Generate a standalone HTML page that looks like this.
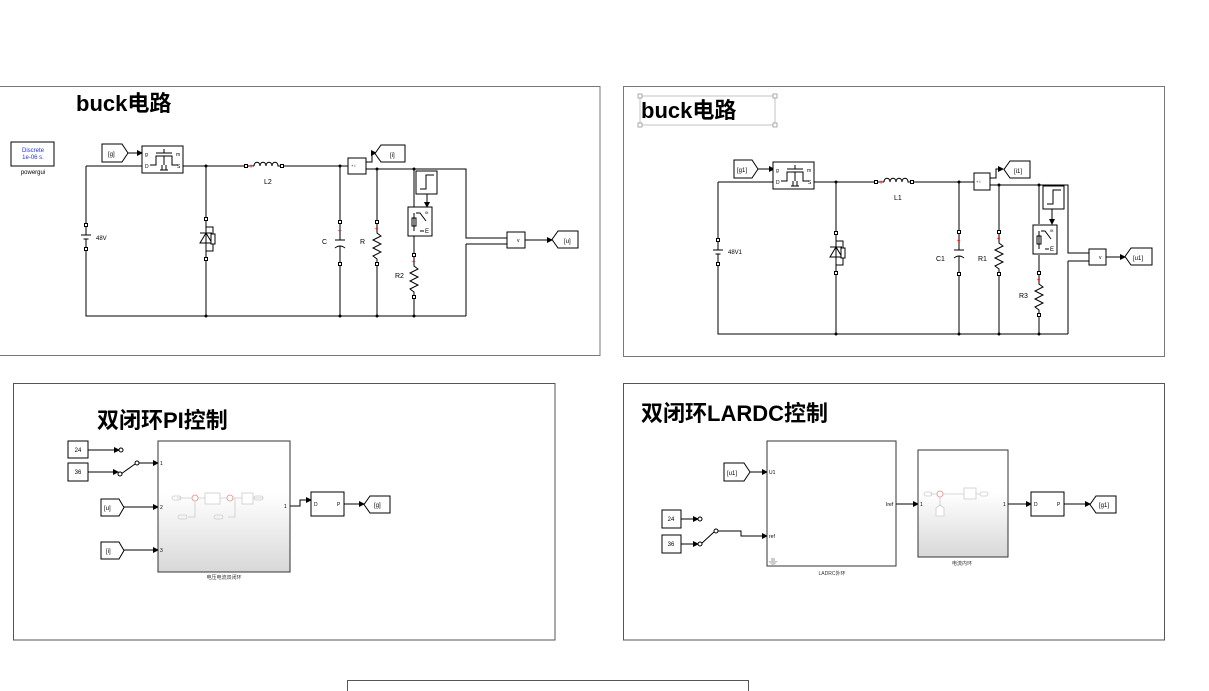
<!DOCTYPE html>
<html><head><meta charset="utf-8"><style>
html,body{margin:0;padding:0;background:#fff;}
svg{display:block;font-family:"Liberation Sans","Noto Sans CJK SC",sans-serif;}
.w{stroke:#000;stroke-width:1;fill:none}
.b{fill:#fff;stroke:#000;stroke-width:1}
.t{font-size:6px;fill:#000}
.tl{font-size:7px;fill:#000}
.ttl{font-size:22px;font-weight:bold;fill:#000}
.dot{fill:#000}
</style></head><body>
<svg width="1209" height="691" viewBox="0 0 1209 691">
<defs>
<marker id="ar" markerWidth="6" markerHeight="6" refX="5" refY="3" orient="auto" markerUnits="userSpaceOnUse"><path d="M0,0L6,3 0,6Z" fill="#000"/></marker>
<linearGradient id="gr" x1="0" y1="0" x2="0" y2="1"><stop offset="0.4" stop-color="#fff"/><stop offset="1" stop-color="#d8d8d8"/></linearGradient>
<g id="res"><path class="w" d="M0,-21V-10l4,3-8,4 8,4-8,4 8,4-8,4 4,3V21"/><rect x="-1.5" y="-22.5" width="3" height="3" class="b"/><rect x="-1.5" y="19.5" width="3" height="3" class="b"/><text x="-2.5" y="-12" style="font-size:7px;fill:red">+</text></g>
<g id="cap"><path class="w" d="M0,-21V-3M-5,-3H5M-5,5Q0,1 5,5M0,3V21"/><rect x="-1.5" y="-22.5" width="3" height="3" class="b"/><rect x="-1.5" y="19.5" width="3" height="3" class="b"/><text x="-2.5" y="-10" style="font-size:7px;fill:red">+</text></g>
<g id="bat"><path class="w" d="M0,-12V-2M-5,-2H5M-2.5,2H2.5M0,2V12"/><rect x="-1.5" y="-13.5" width="3" height="3" class="b"/><rect x="-1.5" y="10.5" width="3" height="3" class="b"/></g>
<g id="dio"><path class="w" d="M0,-20V-12H7V12H0V20M0,-12V12M-6,4H6L0,-6ZM-6,-6H6"/><rect x="5" y="-5" width="4" height="10" class="b"/><rect x="-1.5" y="-21.5" width="3" height="3" class="b"/><rect x="-1.5" y="18.5" width="3" height="3" class="b"/></g>
<g id="ind"><path class="w" d="M0,0H8M8,0c0,-5 6,-5 6,0c0,-5 6,-5 6,0c0,-5 6,-5 6,0c0,-5 6,-5 6,0H36"/><rect x="-1.5" y="-1.5" width="3" height="3" class="b"/><rect x="34.5" y="-1.5" width="3" height="3" class="b"/><text x="3" y="2.5" style="font-size:7px;fill:red">+</text></g>
<g id="mos"><rect x="0" y="0" width="41" height="27" class="b"/><path class="w" d="M8,19H14V10H30V19H36M14,7H30M22,3V7M22,10L22,19M18,24H26M20,24V19M24,24V19"/><text x="3" y="10" style="font-size:5px">g</text><text x="3" y="22" style="font-size:5px">D</text><text x="34" y="10" style="font-size:5px">m</text><text x="35" y="22" style="font-size:5px">S</text></g>
<g id="sw"><rect x="0" y="0" width="24" height="29" class="b"/><path class="w" d="M6,6V24M4,11H8V19H4ZM8,6H12L18,14M12,24H16"/><text x="17" y="7" style="font-size:4px">0t</text><text x="17" y="26" style="font-size:6px">E</text></g>
<g id="step"><rect x="0" y="0" width="21" height="23" class="b"/><path class="w" d="M4,18H10V4H18"/></g>
</defs>

<!-- ===== Left buck panel ===== -->
<rect x="-1" y="86.5" width="601" height="269" fill="#fff" stroke="#777"/>
<text x="76" y="111" class="ttl">buck电路</text>
<rect x="11" y="142" width="43" height="24" class="b"/>
<text x="33" y="152" style="font-size:6px;fill:#23d" text-anchor="middle">Discrete</text>
<text x="33" y="159" style="font-size:6px;fill:#23d" text-anchor="middle">1e-06 s.</text>
<text x="33" y="174" style="font-size:6px" text-anchor="middle">powergui</text>
<path class="w" d="M86,166H142M183,166H246M282,166H348M340,166V222M340,264V316M206,166V218M206,260V316M86,166V224M86,250V316H466M366,169H466V238H507M466,244H507M466,244V316M377,169V222M377,264V316M414,169V207M414,236V255M414,297V316"/>
<path class="w" marker-end="url(#ar)" d="M128,153H142"/>
<path class="w" marker-end="url(#ar)" d="M366,162H372V153H376"/>
<path class="w" marker-end="url(#ar)" d="M525,240H552"/>
<path class="w" marker-end="url(#ar)" d="M427,194V207"/>
<g class="dot"><circle cx="206" cy="166" r="1.5"/><circle cx="340" cy="166" r="1.5"/><circle cx="206" cy="316" r="1.5"/><circle cx="340" cy="316" r="1.5"/><circle cx="377" cy="316" r="1.5"/><circle cx="414" cy="316" r="1.5"/><circle cx="377" cy="169" r="1.5"/><circle cx="414" cy="169" r="1.5"/></g>
<path d="M102,144h20l6,9-6,9h-20z" class="b"/><text x="108" y="156" class="t">[g]</text>
<use href="#mos" x="142" y="146"/>
<use href="#ind" x="246" y="166"/><text x="264" y="184" class="tl">L2</text>
<use href="#bat" x="86" y="237"/><text x="96" y="240" class="t">48V</text>
<use href="#dio" x="206" y="239"/>
<use href="#cap" x="340" y="243"/><text x="322" y="244" class="tl">C</text>
<use href="#res" x="377" y="243"/><text x="360" y="244" class="tl">R</text>
<rect x="348" y="158" width="18" height="16" class="b"/><text x="351" y="167" style="font-size:4px">+ i</text>
<path d="M381,145h24v17h-24l-6,-8.5z" class="b"/><text x="390" y="157" class="t">[i]</text>
<use href="#step" x="416" y="171"/>
<use href="#sw" x="408" y="207"/>
<use href="#res" x="414" y="276"/><text x="395" y="278" class="tl">R2</text>
<rect x="507" y="232" width="18" height="16" class="b"/><text x="517" y="242" style="font-size:5px">v</text>
<path d="M558,231h20v17h-20l-6,-8.5z" class="b"/><text x="564" y="243" class="t">[u]</text>

<!-- ===== Right buck panel ===== -->
<rect x="623.5" y="86.5" width="541" height="270" fill="#fff" stroke="#777"/>
<rect x="640" y="96" width="135" height="29" fill="none" stroke="#aaa" stroke-width="0.7"/>
<g fill="#fff" stroke="#888" stroke-width="0.7"><rect x="638" y="94" width="4" height="4"/><rect x="773" y="94" width="4" height="4"/><rect x="638" y="123" width="4" height="4"/><rect x="773" y="123" width="4" height="4"/></g>
<text x="641" y="118" class="ttl">buck电路</text>
<path class="w" d="M718,182H774M813,182H876M912,182H974M959,182V232M959,274V334M836,182V232M836,274V334M718,182V240M718,265V334H1068M990,185H1068V253H1089M1068,261H1089M1068,261V334M999,185V232M999,274V334M1039,185V224M1039,255V273M1039,315V334"/>
<path class="w" marker-end="url(#ar)" d="M758,169H774"/>
<path class="w" marker-end="url(#ar)" d="M990,178H996V169H1003"/>
<path class="w" marker-end="url(#ar)" d="M1106,257H1125"/>
<path class="w" marker-end="url(#ar)" d="M1052,209V224"/>
<g class="dot"><circle cx="836" cy="182" r="1.5"/><circle cx="959" cy="182" r="1.5"/><circle cx="836" cy="334" r="1.5"/><circle cx="959" cy="334" r="1.5"/><circle cx="999" cy="334" r="1.5"/><circle cx="1039" cy="334" r="1.5"/><circle cx="999" cy="185" r="1.5"/><circle cx="1039" cy="185" r="1.5"/></g>
<path d="M734,160h18l6,9-6,9h-18z" class="b"/><text x="737" y="172" class="t">[g1]</text>
<use href="#mos" x="773" y="162"/>
<use href="#ind" x="876" y="182"/><text x="894" y="200" class="tl">L1</text>
<use href="#bat" x="718" y="252"/><text x="728" y="254" class="t">48V1</text>
<use href="#dio" x="836" y="253"/>
<use href="#cap" x="959" y="253"/><text x="936" y="261" class="tl">C1</text>
<use href="#res" x="999" y="253"/><text x="978" y="261" class="tl">R1</text>
<rect x="974" y="173" width="16" height="17" class="b"/><text x="976" y="183" style="font-size:4px">+ i</text>
<path d="M1010,161h20v17h-20l-6,-8.5z" class="b"/><text x="1014" y="173" class="t">[i1]</text>
<use href="#step" x="1043" y="186"/>
<use href="#sw" x="1033" y="225"/>
<use href="#res" x="1039" y="294"/><text x="1019" y="298" class="tl">R3</text>
<rect x="1089" y="249" width="17" height="16" class="b"/><text x="1099" y="259" style="font-size:5px">v</text>
<path d="M1131,248h21v17h-21l-6,-8.5z" class="b"/><text x="1133" y="260" class="t">[u1]</text>

<!-- ===== PI panel ===== -->
<rect x="13.5" y="383.5" width="541.5" height="256.5" fill="#fff" stroke="#555"/>
<text x="97" y="428" class="ttl">双闭环PI控制</text>
<rect x="68" y="441" width="20" height="17" class="b"/><text x="78" y="452" class="t" text-anchor="middle">24</text>
<rect x="68" y="463" width="20" height="18" class="b"/><text x="78" y="474" class="t" text-anchor="middle">36</text>
<path class="w" d="M121,474L135,464"/>
<path class="w" marker-end="url(#ar)" d="M88,450H119"/>
<path class="w" marker-end="url(#ar)" d="M88,472H118"/>
<path class="w" marker-end="url(#ar)" d="M138,463H158"/>
<path class="w" marker-end="url(#ar)" d="M124,507H158"/>
<path class="w" marker-end="url(#ar)" d="M124,550H158"/>
<path class="w" marker-end="url(#ar)" d="M290,506H300V500H311"/>
<path class="w" marker-end="url(#ar)" d="M344,504H364"/>
<circle cx="121" cy="450" r="2" class="b"/><circle cx="120" cy="474" r="2" class="b"/><circle cx="137" cy="463" r="2" class="b"/>
<rect x="158" y="441" width="132" height="131" fill="url(#gr)" stroke="#333"/>
<g stroke="#ccc" fill="none" stroke-width="0.8"><path d="M177,498H237M237,498H263M188,517H195V498M228,517H235V498"/><rect x="172" y="496" width="9" height="4" rx="2"/><rect x="254" y="496" width="9" height="4" rx="2"/><rect x="178" y="515" width="9" height="4" rx="2"/><rect x="214" y="515" width="9" height="4" rx="2"/><rect x="205" y="493" width="15" height="11" fill="#fff"/><rect x="242" y="493" width="11" height="11" fill="#fff"/></g>
<circle cx="195" cy="498" r="3" fill="#fff" stroke="#e88" stroke-width="0.8"/><circle cx="230" cy="498" r="3" fill="#fff" stroke="#e88" stroke-width="0.8"/>
<text x="160" y="465" style="font-size:5px">1</text><text x="160" y="509" style="font-size:5px">2</text><text x="160" y="552" style="font-size:5px">3</text><text x="284" y="508" style="font-size:5px">1</text>
<text x="224" y="579" style="font-size:5px;fill:#333" text-anchor="middle">电压电流双闭环</text>
<path d="M101,499h18l5,8.5-5,8.5h-18z" class="b"/><text x="104" y="510" class="t">[u]</text>
<path d="M101,542h18l5,8.5-5,8.5h-18z" class="b"/><text x="106" y="553" class="t">[i]</text>
<rect x="311" y="492" width="33" height="24" class="b"/><text x="314" y="506" style="font-size:5px">D</text><text x="337" y="506" style="font-size:5px">P</text>
<path d="M370,496h20v17h-20l-6,-8.5z" class="b"/><text x="374" y="507" class="t">[g]</text>

<!-- ===== LADRC panel ===== -->
<rect x="623.5" y="383.5" width="541" height="256.5" fill="#fff" stroke="#555"/>
<text x="641" y="421" class="ttl">双闭环LARDC控制</text>
<path d="M724,463h20l6,9-6,9h-20z" class="b"/><text x="727" y="475" class="t">[u1]</text>
<rect x="662" y="510" width="19" height="18" class="b"/><text x="671" y="521" class="t" text-anchor="middle">24</text>
<rect x="662" y="535" width="19" height="18" class="b"/><text x="671" y="546" class="t" text-anchor="middle">36</text>
<path class="w" d="M701,544L714,532"/>
<path class="w" marker-end="url(#ar)" d="M750,472H767"/>
<path class="w" marker-end="url(#ar)" d="M681,519H698"/>
<path class="w" marker-end="url(#ar)" d="M681,544H698"/>
<path class="w" marker-end="url(#ar)" d="M716,531H741V536H767"/>
<path class="w" marker-end="url(#ar)" d="M896,504H918"/>
<path class="w" marker-end="url(#ar)" d="M1008,504H1031"/>
<path class="w" marker-end="url(#ar)" d="M1064,504H1090"/>
<circle cx="700" cy="519" r="2" class="b"/><circle cx="700" cy="544" r="2" class="b"/><circle cx="716" cy="531" r="2" class="b"/>
<rect x="767" y="441" width="129" height="125" fill="#fff" stroke="#333"/>
<text x="769" y="474" style="font-size:5px">U1</text><text x="769" y="538" style="font-size:5px">ref</text><text x="886" y="506" style="font-size:5px">Iref</text>
<path d="M771,558h4v3h3l-5,5-5-5h3z" fill="#ccc"/>
<text x="832" y="575" style="font-size:5px;fill:#333" text-anchor="middle">LADRC外环</text>
<rect x="918" y="450" width="90" height="107" fill="url(#gr)" stroke="#333"/>
<g stroke="#ccc" fill="none" stroke-width="0.8"><path d="M930,494H980M940,494V509"/><rect x="924" y="492" width="8" height="4" rx="2"/><rect x="980" y="492" width="8" height="4" rx="2"/><rect x="964" y="488" width="12" height="11" fill="#fff"/><path d="M936,516V508L940,505 944,508V516Z" fill="#fff"/></g>
<circle cx="940" cy="494" r="3" fill="#fff" stroke="#e88" stroke-width="0.8"/>
<text x="920" y="506" style="font-size:5px">1</text><text x="1003" y="506" style="font-size:5px">1</text>
<text x="962" y="565" style="font-size:5px;fill:#333" text-anchor="middle">电流内环</text>
<rect x="1031" y="492" width="33" height="24" class="b"/><text x="1034" y="506" style="font-size:5px">D</text><text x="1057" y="506" style="font-size:5px">P</text>
<path d="M1096,496h20v17h-20l-6,-8.5z" class="b"/><text x="1099" y="507" class="t">[g1]</text>

<rect x="347.5" y="680.5" width="401" height="20" fill="#fff" stroke="#555"/>
</svg>
</body></html>
